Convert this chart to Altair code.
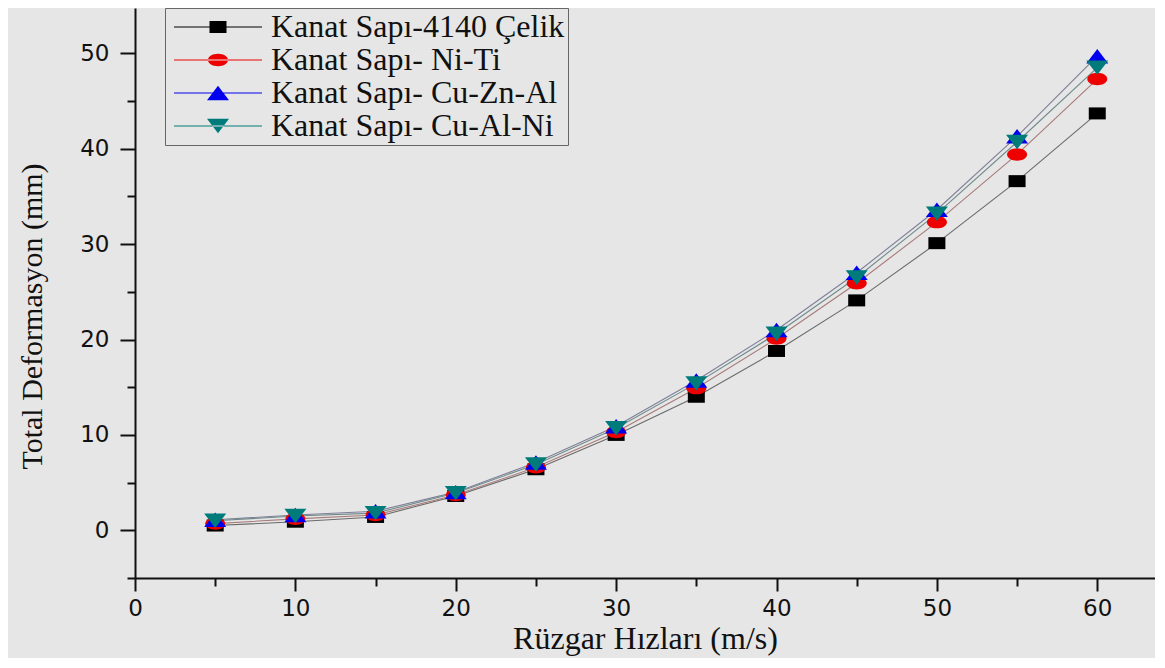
import altair as alt
import pandas as pd

# ---- data ----
speeds = [5, 10, 15, 20, 25, 30, 35, 40, 45, 50, 55, 60]
celik = [0.5, 0.9, 1.4, 3.6, 6.4, 10.0, 14.0, 18.8, 24.1, 30.1, 36.6, 43.7]
niti = [0.7, 1.2, 1.6, 3.7, 6.6, 10.3, 14.9, 20.1, 25.9, 32.3, 39.4, 47.3]
cuznal = [1.1, 1.6, 2.0, 4.0, 7.1, 10.9, 15.7, 21.0, 27.0, 33.6, 41.3, 49.7]
cualni = [1.0, 1.5, 1.8, 3.9, 6.9, 10.7, 15.4, 20.6, 26.5, 33.2, 40.7, 48.5]
series_names = [
    "Kanat Sapı-4140 Çelik",
    "Kanat Sapı- Ni-Ti",
    "Kanat Sapı- Cu-Zn-Al",
    "Kanat Sapı- Cu-Al-Ni",
]
x_major = [0, 10, 20, 30, 40, 50, 60]
x_minor = [5, 15, 25, 35, 45, 55]
y_major = [0, 10, 20, 30, 40, 50]
y_minor = [-5, 5, 15, 25, 35, 45]

# ---- styles ----
marker_colors = ["#000000", "#ee0000", "#0000ee", "#007b7b"]
line_colors = ["#6a6a6a", "#a87a7a", "#7f7f9a", "#708a8a"]
BG = "#e6e6e6"
INK = "#111111"

sq = "M-0.85,-0.6H0.85V0.6H-0.85Z"
ci = "M-1,0A1,0.62 0 1,0 1,0A1,0.62 0 1,0 -1,0Z"
tu = "M0,-0.72L1.1,0.72H-1.1Z"
td = "M0,0.72L1.1,-0.72H-1.1Z"
plot_shapes = [sq, ci, tu, td]
ln = "M-4.4,-0.06H4.4V0.06H-4.4Z"
legend_shapes = [ln + sq, ln + ci, ln + tu, ln + td]

rows = []
for name, vals in zip(series_names, [celik, niti, cuznal, cualni]):
    for s, v in zip(speeds, vals):
        rows.append({"speed": s, "deformation": v, "series": name})
df = pd.DataFrame(rows)

xscale = alt.Scale(domain=[0, 63.6], nice=False, zero=False)
yscale = alt.Scale(domain=[-5, 54.75], nice=False, zero=False)

base = alt.Chart(df)

lines = base.mark_line(strokeWidth=1.1).encode(
    x=alt.X(
        "speed:Q",
        scale=xscale,
        axis=alt.Axis(
            orient="bottom",
            values=x_major,
            tickSize=13,
            tickWidth=2,
            tickColor=INK,
            domainColor=INK,
            domainWidth=2,
            labelFont="DejaVu Sans",
            labelFontSize=23,
            labelColor=INK,
            labelPadding=6,
            labelFlush=False,
            grid=False,
            title="Rüzgar Hızları (m/s)",
            titleFont="Liberation Serif",
            titleFontSize=32,
            titleFontWeight="normal",
            titleColor=INK,
            titlePadding=3,
        ),
    ),
    y=alt.Y(
        "deformation:Q",
        scale=yscale,
        axis=alt.Axis(
            orient="left",
            values=y_major,
            tickSize=15,
            tickWidth=2,
            tickColor=INK,
            domainColor=INK,
            domainWidth=2,
            labelFont="DejaVu Sans",
            labelFontSize=23,
            labelColor=INK,
            labelPadding=11,
            labelFlush=False,
            grid=False,
            title="Total Deformasyon (mm)",
            titleFont="Liberation Serif",
            titleFontSize=30,
            titleFontWeight="normal",
            titleColor=INK,
            titlePadding=32,
            titleY=308,
        ),
    ),
    color=alt.Color(
        "series:N",
        scale=alt.Scale(domain=series_names, range=line_colors),
        legend=None,
    ),
    order="speed:Q",
)

points = base.mark_point(filled=True, size=400, opacity=1).encode(
    x=alt.X("speed:Q", scale=xscale, axis=None),
    y=alt.Y("deformation:Q", scale=yscale, axis=None),
    color=alt.Color(
        "series:N",
        scale=alt.Scale(domain=series_names, range=marker_colors),
        legend=None,
    ),
    shape=alt.Shape(
        "series:N",
        scale=alt.Scale(domain=series_names, range=plot_shapes),
        legend=None,
    ),
)

legend_def = dict(
    title=None,
    orient="none",
    legendX=30,
    legendY=0,
    labelFont="Liberation Serif",
    labelFontSize=32,
    labelColor=INK,
    labelLimit=0,
    labelOffset=37,
    symbolOffset=34,
    symbolSize=400,
    symbolOpacity=1,
    symbolStrokeWidth=0,
    padding=3,
    rowPadding=1,
    strokeColor="#666666",
    fillColor=BG,
)

legend_layer = base.mark_point(filled=True, size=400, opacity=0).encode(
    x=alt.X(
        "speed:Q",
        scale=xscale,
        axis=alt.Axis(
            orient="bottom",
            values=x_minor,
            tickSize=8,
            tickWidth=2,
            tickColor=INK,
            domain=False,
            labels=False,
            grid=False,
            title=None,
        ),
    ),
    y=alt.Y(
        "deformation:Q",
        scale=yscale,
        axis=alt.Axis(
            orient="left",
            values=y_minor,
            tickSize=8,
            tickWidth=2,
            tickColor=INK,
            domain=False,
            labels=False,
            grid=False,
            title=None,
        ),
    ),
    color=alt.Color(
        "series:N",
        scale=alt.Scale(domain=series_names, range=marker_colors),
        legend=alt.Legend(**legend_def),
    ),
    shape=alt.Shape(
        "series:N",
        scale=alt.Scale(domain=series_names, range=legend_shapes),
        legend=alt.Legend(**legend_def),
    ),
)

chart = (
    alt.layer(lines, points, legend_layer)
    .resolve_scale(color="independent", shape="independent")
    .resolve_axis(x="independent", y="independent")
    .properties(
        width=1020,
        height=570,
        autosize=alt.AutoSizeParams(type="none"),
        padding={"left": 127, "top": 0, "right": 0, "bottom": 80},
        background=BG,
    )
    .configure_view(stroke=None)
)

chart.save("out.html", embed_options={"renderer": "svg", "actions": False})
